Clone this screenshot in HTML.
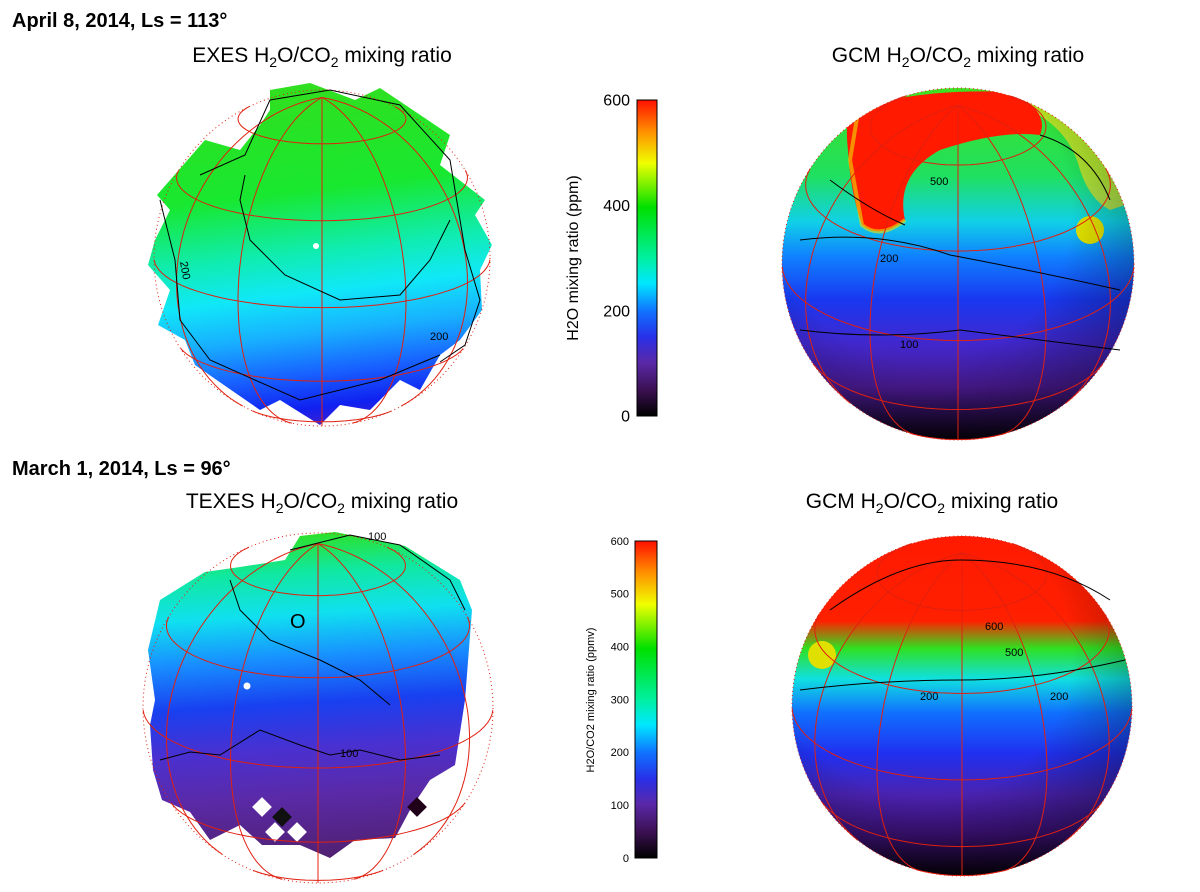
<!DOCTYPE html>
<html><head><meta charset="utf-8"><style>
body{margin:0;background:#fff;width:1200px;height:892px;overflow:hidden;font-family:"Liberation Sans",sans-serif}
svg{display:block}
</style></head><body>
<svg id="s" width="1200" height="892" viewBox="0 0 1200 892">
<defs>
<linearGradient id="g1" gradientUnits="userSpaceOnUse" x1="300" y1="90" x2="340" y2="425">
<stop offset="0" stop-color="#30e020"/><stop offset="0.3" stop-color="#18e830"/><stop offset="0.48" stop-color="#10ecb0"/><stop offset="0.6" stop-color="#10e8f8"/><stop offset="0.72" stop-color="#18b0ff"/><stop offset="0.84" stop-color="#1860ff"/><stop offset="0.94" stop-color="#1020f0"/><stop offset="1" stop-color="#4020d0"/></linearGradient>
<linearGradient id="g2" gradientUnits="userSpaceOnUse" x1="300" y1="532" x2="320" y2="860">
<stop offset="0" stop-color="#30e020"/><stop offset="0.12" stop-color="#10e8a0"/><stop offset="0.25" stop-color="#10e0f0"/><stop offset="0.38" stop-color="#1890ff"/><stop offset="0.52" stop-color="#1840f0"/><stop offset="0.66" stop-color="#4a30d0"/><stop offset="0.8" stop-color="#5a2aa8"/><stop offset="1" stop-color="#502070"/></linearGradient>
<linearGradient id="g3" x1="0" y1="0" x2="0" y2="1">
<stop offset="0" stop-color="#40e020"/><stop offset="0.25" stop-color="#20e060"/><stop offset="0.38" stop-color="#10d0e8"/><stop offset="0.48" stop-color="#1080ff"/><stop offset="0.6" stop-color="#1838f0"/><stop offset="0.72" stop-color="#4028d0"/><stop offset="0.85" stop-color="#4a1a90"/><stop offset="1" stop-color="#050008"/></linearGradient>
<linearGradient id="g4" x1="0" y1="0" x2="0" y2="1">
<stop offset="0" stop-color="#ff1a00"/><stop offset="0.25" stop-color="#ff2000"/><stop offset="0.33" stop-color="#30e020"/><stop offset="0.42" stop-color="#10e0e0"/><stop offset="0.52" stop-color="#1070ff"/><stop offset="0.64" stop-color="#2030f0"/><stop offset="0.76" stop-color="#4a22b0"/><stop offset="0.88" stop-color="#3a1070"/><stop offset="1" stop-color="#050008"/></linearGradient>
<radialGradient id="shade" cx="0.4" cy="0.35" r="0.7"><stop offset="0.6" stop-color="#000" stop-opacity="0"/><stop offset="1" stop-color="#000" stop-opacity="0.35"/></radialGradient>
<linearGradient id="cb" x1="0" y1="1" x2="0" y2="0">
<stop offset="0" stop-color="#000"/><stop offset="0.08" stop-color="#3a1050"/><stop offset="0.17" stop-color="#5a28a8"/><stop offset="0.25" stop-color="#2830e8"/><stop offset="0.33" stop-color="#1070ff"/><stop offset="0.42" stop-color="#00e8ff"/><stop offset="0.5" stop-color="#00f0a0"/><stop offset="0.66" stop-color="#00e000"/><stop offset="0.8" stop-color="#f0ff00"/><stop offset="0.9" stop-color="#ff9000"/><stop offset="1" stop-color="#ff1000"/></linearGradient>
<clipPath id="c2"><circle cx="958" cy="264" r="176"/></clipPath>
<clipPath id="c4"><circle cx="962" cy="706" r="170"/></clipPath>
</defs>
<g font-weight="bold" font-size="20" fill="#000">
<text x="12" y="27">April 8, 2014, Ls = 113°</text>
<text x="12" y="475">March 1, 2014, Ls = 96°</text></g>
<g font-size="21" text-anchor="middle" fill="#000">
<text x="322" y="62">EXES H<tspan font-size="14" dy="5">2</tspan><tspan dy="-5">O/CO</tspan><tspan font-size="14" dy="5">2</tspan><tspan dy="-5"> mixing ratio</tspan></text>
<text x="958" y="62">GCM H<tspan font-size="14" dy="5">2</tspan><tspan dy="-5">O/CO</tspan><tspan font-size="14" dy="5">2</tspan><tspan dy="-5"> mixing ratio</tspan></text>
<text x="322" y="508">TEXES H<tspan font-size="14" dy="5">2</tspan><tspan dy="-5">O/CO</tspan><tspan font-size="14" dy="5">2</tspan><tspan dy="-5"> mixing ratio</tspan></text>
<text x="932" y="508">GCM H<tspan font-size="14" dy="5">2</tspan><tspan dy="-5">O/CO</tspan><tspan font-size="14" dy="5">2</tspan><tspan dy="-5"> mixing ratio</tspan></text></g>

<polygon fill="url(#g1)" points="270,90 310,83 355,100 380,88 450,135 440,165 485,200 475,215 492,245 480,270 482,310 460,340 440,355 420,390 400,380 370,410 340,405 320,425 280,400 260,410 195,365 185,340 158,325 170,290 148,265 155,240 170,210 157,195 205,140 240,150 260,125 270,110"/>
<polygon fill="url(#g2)" points="240,567 285,560 300,536 335,532 405,546 460,580 472,610 465,700 455,765 430,780 410,810 395,838 355,840 330,858 300,845 262,845 240,825 210,840 190,812 162,800 153,770 150,725 155,700 148,650 160,600 205,572"/>
<g>
<rect x="255" y="800" width="14" height="14" fill="#fff" transform="rotate(45 262 807)"/><rect x="275" y="810" width="14" height="14" fill="#101010" transform="rotate(45 282 817)"/><rect x="268" y="825" width="14" height="14" fill="#fff" transform="rotate(45 275 832)"/><rect x="290" y="825" width="14" height="14" fill="#fff" transform="rotate(45 297 832)"/><rect x="410" y="800" width="14" height="14" fill="#200018" transform="rotate(45 417 807)"/></g>
<circle cx="316" cy="246" r="3" fill="#fff"/>
<circle cx="247" cy="686" r="3.5" fill="#fff"/>
<text x="290" y="628" font-size="20">O</text>

<g clip-path="url(#c2)">
<rect x="780" y="88" width="356" height="352" fill="url(#g3)"/>
<path d="M1030,110 Q1070,130 1080,170 Q1090,200 1110,210 L1140,200 L1140,90 L1020,90Z" fill="#e8e020" opacity="0.7"/>
<path d="M850,110 Q920,88 1010,92 Q1050,110 1040,135 Q1000,130 940,150 Q895,175 905,220 Q880,240 862,225 Q850,190 848,150 Q845,125 850,110Z" fill="#ff1a00"/>
<path d="M845,110 L860,100 L850,160 L862,225 Q880,240 905,220" fill="none" stroke="#f0e000" stroke-width="4" opacity="0.6"/>
<circle cx="1090" cy="230" r="14" fill="#e0e000"/>
<circle cx="958" cy="264" r="176" fill="url(#shade)"/></g>
<g clip-path="url(#c4)">
<rect x="792" y="536" width="340" height="340" fill="url(#g4)"/>
<circle cx="822" cy="655" r="14" fill="#e0e000"/>
<circle cx="962" cy="706" r="170" fill="url(#shade)"/></g>
<g id="grids" fill="none" stroke="#e02010" stroke-width="1"></g>
<g id="cont" fill="none" stroke="#000" stroke-width="1">
<path d="M200,175 L245,155 L270,100 L330,90 L400,105 L450,160 L465,250 L480,300 L465,345 L440,362"/>
<path d="M160,200 L175,260 L180,320 L210,360 L300,400 L380,380 L440,355"/>
<path d="M245,175 L240,200 L250,240 L285,275 L340,300 L400,295 L430,260 L450,220"/>
<path d="M290,550 L350,535 L400,545 L450,580 L465,610"/>
<path d="M230,580 L240,610 L270,640 L320,660 L360,680 L390,705"/>
<path d="M160,760 L190,752 L220,755 L260,730 L300,745 L330,755 L360,750 L400,760 L440,755"/>
<path d="M830,180 Q870,210 905,225 M1040,135 Q1090,150 1110,200"/>
<path d="M800,240 Q880,230 950,255 Q1030,270 1120,290"/>
<path d="M800,330 Q880,340 960,330 Q1040,340 1120,350"/>
<path d="M830,610 Q900,560 960,560 Q1050,560 1110,600"/>
<path d="M800,690 Q880,680 960,680 Q1040,680 1125,660"/>
</g>
<g font-size="11" fill="#000" font-family="Liberation Sans,sans-serif">
<text x="180" y="262" transform="rotate(80 180 262)">200</text><text x="430" y="340">200</text>
<text x="340" y="757">100</text><text x="368" y="540">100</text>
<text x="930" y="185">500</text><text x="880" y="262">200</text><text x="900" y="348">100</text>
<text x="985" y="630">600</text><text x="1005" y="656">500</text><text x="920" y="700">200</text><text x="1050" y="700">200</text></g>

<g id="cbar1">
<rect x="637" y="100" width="20" height="316" fill="url(#cb)" stroke="#000"/>
<text x="578" y="258" font-size="16" text-anchor="middle" transform="rotate(-90 578 258)">H2O mixing ratio (ppm)</text></g>
<g id="cbar2">
<rect x="635" y="541" width="22" height="317" fill="url(#cb)" stroke="#000"/>
<text x="594" y="700" font-size="11" text-anchor="middle" transform="rotate(-90 594 700)">H2O/CO2 mixing ratio (ppmv)</text></g>
</svg>
<script>
const cb1Ticks=[0,200,400,600];
const cb2Ticks=[0,100,200,300,400,500,600];
const cbMax=600;
const NS='http://www.w3.org/2000/svg';
function ticks(gid,arr,y0,y1,x,fs){
  const g=document.getElementById(gid);
  arr.forEach(v=>{
    const t=document.createElementNS(NS,'text');
    const y=y1-(v/cbMax)*(y1-y0);
    t.setAttribute('x',x);t.setAttribute('y',y+fs*0.35);
    t.setAttribute('font-size',fs);t.setAttribute('text-anchor','end');
    t.textContent=v;
    
    
    g.appendChild(t);
  });
}
ticks('cbar1',cb1Ticks,100,416,630,16);
ticks('cbar2',cb2Ticks,541,858,629,11);
const globes=[[322,258,168,0.3],[958,264,176,0.45],[318,708,175,0.35],[962,706,170,0.45]];
const grid=document.getElementById('grids');
function proj(cx,cy,r,tilt,la,l){
  const p=la*Math.PI/180,a=l*Math.PI/180;
  const X=Math.cos(p)*Math.sin(a),Y=Math.sin(p),Z=Math.cos(p)*Math.cos(a);
  const Y2=Y*Math.cos(tilt)-Z*Math.sin(tilt),Z2=Y*Math.sin(tilt)+Z*Math.cos(tilt);
  return [cx+X*r,cy-Y2*r,Z2];
}
globes.forEach(([cx,cy,r,tilt])=>{
  [-60,-30,0,30,60].forEach(l=>{
    let d='';
    for(let la=-90;la<=90;la+=3){
      const [x,y,z]=proj(cx,cy,r,tilt,la,l);
      if(z<0)continue;
      d+=(d?'L':'M')+x.toFixed(1)+','+y.toFixed(1);
    }
    const e=document.createElementNS(NS,'path');e.setAttribute('d',d);
    
    
    grid.appendChild(e);
  });
  [-60,-30,0,30,60].forEach(la=>{
    let d='',pen=false;
    for(let l=-180;l<=180;l+=4){
      const [x,y,z]=proj(cx,cy,r,tilt,la,l);
      if(z<0){pen=false;continue;}
      d+=(pen?'L':'M')+x.toFixed(1)+','+y.toFixed(1);pen=true;
    }
    const e=document.createElementNS(NS,'path');e.setAttribute('d',d);
    
    
    grid.appendChild(e);
  });
  const c=document.createElementNS(NS,'circle');
  c.setAttribute('cx',cx);c.setAttribute('cy',cy);c.setAttribute('r',r);
  c.setAttribute('stroke-dasharray','1 3');
  
  
  grid.appendChild(c);
});
</script>
</body></html>
